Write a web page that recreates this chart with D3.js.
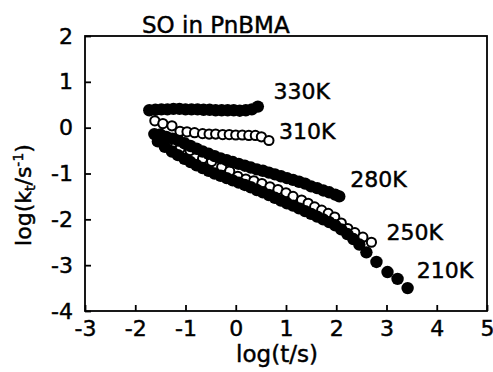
<!DOCTYPE html>
<html>
<head>
<meta charset="utf-8">
<script src="https://cdn.jsdelivr.net/npm/d3@7"></script>
<style>
  html, body { margin: 0; padding: 0; background: #fff; }
  svg text { font-family: "DejaVu Sans", sans-serif; fill: #000; stroke: #000; stroke-width: 0.45px; }
</style>
</head>
<body>
<svg id="chart" width="493" height="372"></svg>
<script>
// ---- data ----
const title = "SO in PnBMA";
const xTicks = [-3, -2, -1, 0, 1, 2, 3, 4, 5];
const yTicks = [-4, -3, -2, -1, 0, 1, 2];

const t330x = [-1.72, -1.6, -1.48, -1.36, -1.24, -1.12, -1.0, -0.88, -0.76, -0.64, -0.52, -0.4, -0.28, -0.16, -0.04, 0.08, 0.2, 0.32, 0.44];
const t330y = [0.38, 0.39, 0.40, 0.40, 0.41, 0.41, 0.40, 0.40, 0.40, 0.39, 0.39, 0.38, 0.38, 0.38, 0.38, 0.37, 0.38, 0.40, 0.46];

const t310x = [-1.61, -1.45, -1.27, -1.11, -0.97, -0.82, -0.66, -0.53, -0.40, -0.26, -0.13, 0.0, 0.13, 0.26, 0.39, 0.51, 0.66];
const t310y = [0.15, 0.09, 0.04, -0.08, -0.09, -0.11, -0.13, -0.14, -0.14, -0.15, -0.15, -0.16, -0.16, -0.17, -0.17, -0.20, -0.28];

const t280x = [-1.5, -1.38, -1.26, -1.14, -1.02, -0.9, -0.78, -0.66, -0.54, -0.42, -0.3, -0.18, -0.06, 0.06, 0.18, 0.3, 0.42, 0.54, 0.66, 0.78, 0.9, 1.02, 1.14, 1.26, 1.38, 1.5, 1.62, 1.74, 1.86, 1.98, 2.06];
const t280y = [-0.15, -0.2, -0.24, -0.28, -0.34, -0.4, -0.46, -0.52, -0.57, -0.62, -0.67, -0.71, -0.75, -0.79, -0.83, -0.87, -0.91, -0.94, -0.98, -1.02, -1.06, -1.1, -1.14, -1.18, -1.22, -1.28, -1.32, -1.37, -1.41, -1.46, -1.5];

const t250x = [-1.55, -1.37, -1.11, -0.91, -0.66, -0.48, -0.28, -0.12, 0.04, 0.2, 0.36, 0.52, 0.68, 0.84, 1.0, 1.14, 1.31, 1.44, 1.57, 1.71, 1.84, 1.97, 2.1, 2.23, 2.37, 2.53, 2.7];
const t250y = [-0.22, -0.35, -0.46, -0.5, -0.68, -0.74, -0.86, -0.95, -1.06, -1.12, -1.16, -1.22, -1.29, -1.35, -1.42, -1.5, -1.58, -1.65, -1.73, -1.8, -1.87, -1.95, -2.08, -2.2, -2.29, -2.39, -2.5];

const t210x = [-1.62, -1.55, -1.41, -1.27, -1.15, -1.02, -0.9, -0.78, -0.66, -0.54, -0.42, -0.3, -0.18, -0.06, 0.06, 0.18, 0.3, 0.42, 0.54, 0.66, 0.78, 0.9, 1.02, 1.14, 1.26, 1.38, 1.5, 1.62, 1.74, 1.86, 1.98, 2.1, 2.22, 2.34, 2.46, 2.6, 2.8, 3.02, 3.22, 3.42];
const t210y = [-0.14, -0.3, -0.42, -0.52, -0.6, -0.68, -0.75, -0.82, -0.88, -0.94, -1.0, -1.05, -1.1, -1.15, -1.2, -1.25, -1.3, -1.36, -1.41, -1.47, -1.53, -1.59, -1.65, -1.7, -1.76, -1.82, -1.88, -1.94, -2.0, -2.06, -2.13, -2.22, -2.32, -2.43, -2.55, -2.72, -2.93, -3.15, -3.3, -3.5];

const seriesNames = ["250K", "210K", "280K", "310K", "330K"];
const seriesFilled = [false, true, true, false, true];
const seriesX = [t250x, t210x, t280x, t310x, t330x];
const seriesY = [t250y, t210y, t280y, t310y, t330y];

const labelNames = ["330K", "310K", "280K", "250K", "210K"];
const labelX = [0.75, 0.86, 2.28, 3.0, 3.6];
const labelY = [0.63, -0.25, -1.3, -2.45, -3.28];

// ---- drawing ----
const svg = d3.select("#chart");
const x = d3.scaleLinear().domain([-3, 5]).range([85, 487]);
const y = d3.scaleLinear().domain([-4, 2]).range([311, 36]);

// frame
svg.append("rect")
  .attr("x", x(-3)).attr("y", y(2))
  .attr("width", x(5) - x(-3)).attr("height", y(-4) - y(2))
  .attr("fill", "none").attr("stroke", "#000").attr("stroke-width", 1.8);

// bottom axis (ticks pointing inward)
const xAxis = d3.axisBottom(x).tickValues(xTicks).tickSizeInner(-6).tickSizeOuter(0)
  .tickPadding(9).tickFormat(d => String(d).replace("\u2212", "-"));
const gx = svg.append("g").attr("transform", `translate(0,${y(-4)})`).call(xAxis);
gx.select(".domain").remove();
gx.selectAll(".tick line").attr("stroke", "#000").attr("stroke-width", 1.8);
gx.selectAll(".tick text").attr("font-size", 22).attr("font-family", "DejaVu Sans").attr("fill", "#000")
  .attr("dy", "0.71em");

// left axis (ticks pointing inward)
const yAxis = d3.axisLeft(y).tickValues(yTicks).tickSizeInner(-6).tickSizeOuter(0)
  .tickPadding(12).tickFormat(d => String(d).replace("\u2212", "-"));
const gy = svg.append("g").attr("transform", `translate(${x(-3)},0)`).call(yAxis);
gy.select(".domain").remove();
gy.selectAll(".tick line").attr("stroke", "#000").attr("stroke-width", 1.8);
gy.selectAll(".tick text").attr("font-size", 22).attr("font-family", "DejaVu Sans").attr("fill", "#000");

// series
seriesNames.forEach((name, i) => {
  const pts = seriesX[i].map((v, j) => ({ x: v, y: seriesY[i][j] }));
  const g = svg.append("g").attr("class", "series-" + name);
  g.selectAll("circle").data(pts).enter().append("circle")
    .attr("cx", d => x(d.x)).attr("cy", d => y(d.y))
    .attr("r", seriesFilled[i] ? 6.2 : 4.6)
    .attr("fill", seriesFilled[i] ? "#000" : "#fff")
    .attr("stroke", "#000")
    .attr("stroke-width", seriesFilled[i] ? 0 : 2);
});

// series labels
svg.selectAll("text.slabel").data(labelNames).enter().append("text")
  .attr("class", "slabel")
  .attr("x", (d, i) => x(labelX[i])).attr("y", (d, i) => y(labelY[i]))
  .attr("font-size", 22)
  .text(d => d);

// title
svg.append("text").attr("x", 142).attr("y", 33).attr("font-size", 23).text(title);

// x label
svg.append("text").attr("x", 277).attr("y", 362).attr("text-anchor", "middle")
  .attr("font-size", 23).text("log(t/s)");

// y label
const yl = svg.append("text")
  .attr("transform", "translate(31,195) rotate(-90)")
  .attr("text-anchor", "middle").attr("font-size", 22);
yl.append("tspan").text("log(k");
yl.append("tspan").attr("font-size", 14).attr("dy", 4).text("t");
yl.append("tspan").attr("dy", -4).text("/s");
yl.append("tspan").attr("font-size", 14).attr("dy", -8).text("-1");
yl.append("tspan").attr("dy", 8).text(")");
</script>
</body>
</html>
